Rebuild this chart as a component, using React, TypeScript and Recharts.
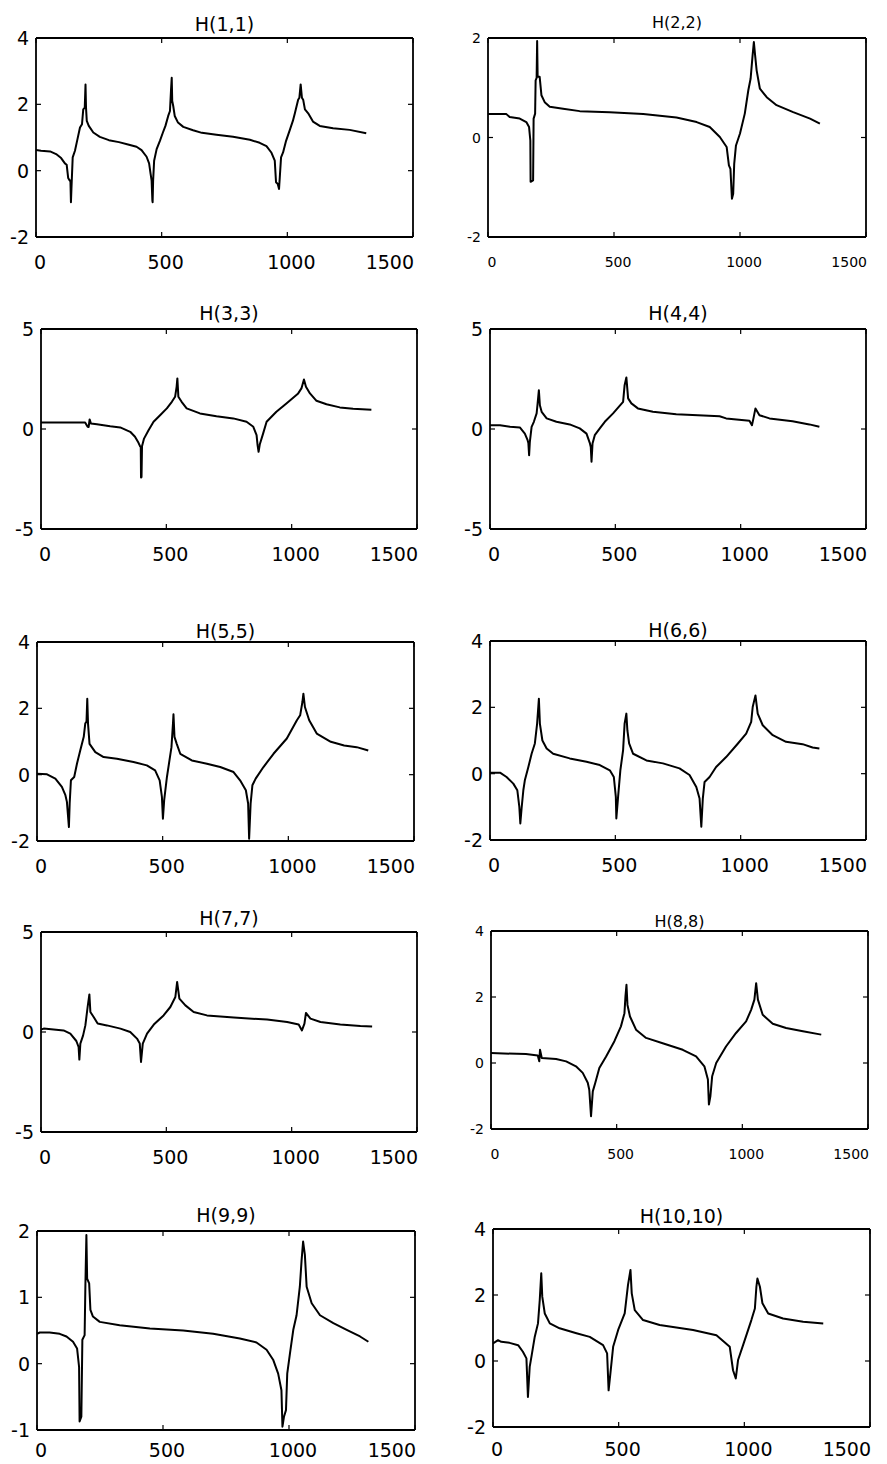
import React from 'react';
import { LineChart, Line, XAxis, YAxis } from 'recharts';

type Pt = [number, number];

// ---------- tick labels ----------
const X_TICKS = [0, 500, 1000, 1500];
const Y_TICKS_A = [-2, 0, 2, 4];
const Y_TICKS_B = [-2, 0, 2];
const Y_TICKS_C = [-5, 0, 5];
const Y_TICKS_D = [-1, 0, 1, 2];

// ---------- series values [frequency, value] ----------
const H11: Pt[] = [[0,0.62],[20,0.6],[56,0.58],[80,0.5],[100,0.38],[115,0.22],[122,0.18],[128,-0.22],[134,-0.3],[137,-0.3],[139,-0.95],[141,-0.55],[146,0.4],[155,0.6],[165,0.95],[175,1.3],[183,1.4],[188,1.85],[194,1.9],[197,2.6],[199,1.9],[202,1.5],[210,1.35],[228,1.15],[254,1.02],[290,0.92],[330,0.86],[370,0.78],[400,0.72],[420,0.62],[440,0.42],[450,0.22],[456,-0.1],[460,-0.3],[463,-0.9],[464,-0.95],[466,-0.3],[470,0.3],[480,0.65],[493,0.9],[505,1.15],[515,1.35],[526,1.65],[533,1.8],[537,2.4],[540,2.8],[542,2.1],[546,1.95],[552,1.65],[565,1.45],[586,1.32],[625,1.22],[660,1.14],[718,1.08],[784,1.02],[851,0.93],[890,0.84],[917,0.74],[937,0.54],[950,0.3],[955,-0.35],[962,-0.4],[967,-0.55],[970,-0.2],[975,0.4],[983,0.55],[995,0.9],[1010,1.23],[1022,1.5],[1030,1.73],[1043,2.14],[1048,2.2],[1053,2.6],[1058,2.2],[1063,2.14],[1070,1.85],[1083,1.73],[1102,1.48],[1129,1.35],[1182,1.28],[1248,1.23],[1314,1.13]];

const H22: Pt[] = [[0,0.47],[73,0.47],[86,0.41],[126,0.38],[152,0.31],[163,0.21],[168,-0.06],[169,-0.89],[179,-0.86],[181,0.38],[187,0.48],[189,1.15],[193,1.2],[195,1.94],[197,1.22],[205,1.22],[212,0.85],[225,0.71],[245,0.62],[298,0.58],[364,0.53],[483,0.51],[616,0.47],[748,0.4],[828,0.31],[880,0.21],[920,0.01],[947,-0.19],[956,-0.56],[962,-0.63],[968,-1.23],[973,-1.13],[977,-0.53],[984,-0.16],[1000,0.08],[1019,0.48],[1033,0.95],[1042,1.18],[1050,1.65],[1055,1.92],[1060,1.65],[1066,1.35],[1079,0.98],[1106,0.81],[1145,0.65],[1211,0.51],[1278,0.38],[1317,0.28]];

const H33: Pt[] = [[0,0.33],[176,0.33],[186,0.11],[190,0.1],[194,0.48],[199,0.28],[223,0.24],[276,0.14],[316,0.08],[356,-0.14],[375,-0.39],[389,-0.69],[395,-0.86],[398,-0.9],[399,-2.43],[401,-2.4],[403,-0.86],[411,-0.48],[429,-0.06],[449,0.36],[475,0.69],[502,1.03],[522,1.36],[535,1.61],[541,2.11],[544,2.53],[548,1.61],[561,1.36],[581,1.03],[634,0.78],[700,0.64],[767,0.53],[820,0.36],[847,0.11],[860,-0.31],[864,-0.81],[868,-1.14],[873,-0.76],[886,-0.23],[900,0.36],[939,0.86],[979,1.28],[1026,1.78],[1039,2.03],[1049,2.48],[1057,2.11],[1073,1.78],[1099,1.41],[1139,1.24],[1192,1.08],[1245,1.01],[1318,0.96]];

const H44: Pt[] = [[0,0.19],[40,0.19],[80,0.11],[119,0.08],[139,-0.23],[150,-0.56],[153,-0.7],[156,-1.31],[159,-0.64],[166,0.11],[175,0.36],[186,0.78],[190,1.28],[195,1.94],[199,1.19],[206,0.86],[226,0.53],[265,0.36],[318,0.23],[358,0.03],[385,-0.23],[398,-0.69],[402,-0.9],[405,-1.64],[409,-0.73],[418,-0.31],[438,0.03],[458,0.36],[491,0.78],[531,1.36],[537,2.19],[544,2.58],[551,1.53],[564,1.28],[590,1.03],[650,0.86],[743,0.74],[916,0.64],[942,0.53],[1035,0.41],[1045,0.19],[1051,0.53],[1059,1.03],[1075,0.69],[1115,0.53],[1207,0.39],[1274,0.23],[1314,0.11]];

const H55: Pt[] = [[0,0.03],[40,0.01],[73,-0.12],[99,-0.37],[113,-0.62],[119,-0.82],[127,-1.58],[130,-0.87],[135,-0.17],[148,-0.07],[159,0.33],[172,0.73],[186,1.14],[192,1.54],[197,1.6],[200,2.29],[203,1.54],[209,0.93],[232,0.68],[265,0.53],[318,0.48],[384,0.38],[437,0.28],[470,0.13],[488,-0.17],[497,-0.67],[501,-1.33],[506,-0.77],[517,-0.07],[527,0.43],[535,0.83],[541,1.54],[543,1.82],[547,1.14],[556,0.93],[570,0.63],[616,0.43],[676,0.33],[729,0.23],[782,0.08],[808,-0.17],[831,-0.47],[840,-0.87],[844,-1.93],[850,-0.87],[857,-0.32],[870,-0.12],[901,0.23],[941,0.63],[994,1.09],[1034,1.64],[1047,1.79],[1056,2.19],[1060,2.44],[1066,2.04],[1083,1.64],[1113,1.24],[1169,0.99],[1222,0.88],[1272,0.83],[1318,0.73]];

const H66: Pt[] = [[0,0.03],[40,0.03],[66,-0.1],[93,-0.3],[109,-0.5],[117,-1.0],[121,-1.5],[126,-1.05],[133,-0.5],[139,-0.2],[153,0.2],[166,0.6],[179,0.91],[188,1.51],[195,2.26],[199,1.51],[209,1.0],[226,0.76],[252,0.6],[318,0.46],[385,0.36],[438,0.26],[478,0.1],[494,-0.1],[502,-0.7],[504,-1.35],[511,-0.7],[520,0.1],[531,0.71],[537,1.51],[544,1.81],[548,1.31],[555,0.91],[571,0.6],[624,0.4],[690,0.31],[756,0.16],[796,-0.04],[823,-0.4],[836,-0.75],[843,-1.6],[849,-0.75],[856,-0.25],[876,-0.1],[902,0.2],[942,0.5],[989,0.91],[1022,1.21],[1042,1.56],[1048,2.01],[1059,2.36],[1068,1.81],[1088,1.46],[1128,1.16],[1181,0.96],[1247,0.89],[1287,0.79],[1314,0.76]];

const H77: Pt[] = [[0,0.12],[11,0.17],[90,0.08],[117,-0.08],[141,-0.45],[150,-0.75],[153,-1.38],[157,-0.58],[168,-0.17],[177,0.33],[186,1.25],[193,1.88],[197,1.0],[210,0.75],[226,0.42],[263,0.33],[317,0.17],[356,0],[383,-0.33],[394,-0.58],[399,-1.5],[406,-0.58],[423,-0.08],[450,0.37],[489,0.83],[516,1.25],[536,1.75],[543,2.5],[552,1.67],[576,1.33],[609,1.0],[662,0.83],[769,0.72],[902,0.62],[982,0.5],[1028,0.37],[1041,0.08],[1051,0.42],[1057,0.95],[1075,0.67],[1115,0.5],[1194,0.38],[1274,0.3],[1321,0.28]];

const H88: Pt[] = [[0,0.3],[139,0.27],[186,0.23],[192,0.05],[195,0.4],[202,0.15],[259,0.12],[299,0.05],[338,-0.1],[365,-0.3],[385,-0.6],[391,-0.81],[398,-1.61],[405,-0.86],[415,-0.6],[431,-0.15],[458,0.2],[491,0.66],[517,1.11],[531,1.51],[535,2.02],[539,2.37],[543,1.76],[553,1.41],[577,1.01],[617,0.76],[683,0.6],[763,0.4],[816,0.2],[849,-0.1],[863,-0.5],[867,-1.26],[873,-1.0],[880,-0.4],[896,0],[935,0.5],[975,0.91],[1015,1.26],[1035,1.61],[1048,1.92],[1055,2.42],[1062,1.92],[1081,1.46],[1121,1.19],[1174,1.06],[1241,0.96],[1314,0.86]];

const H99: Pt[] = [[0,0.45],[11,0.47],[50,0.47],[90,0.45],[117,0.41],[143,0.33],[159,0.23],[167,-0.05],[169,-0.87],[176,-0.8],[180,0.36],[189,0.43],[192,1.18],[196,1.94],[199,1.28],[207,1.21],[212,0.81],[222,0.71],[249,0.63],[328,0.58],[448,0.53],[580,0.5],[699,0.45],[805,0.38],[871,0.32],[911,0.21],[937,0.06],[957,-0.15],[970,-0.4],[974,-0.95],[980,-0.8],[988,-0.7],[993,-0.15],[1004,0.16],[1017,0.51],[1030,0.73],[1043,1.16],[1050,1.56],[1056,1.84],[1063,1.64],[1070,1.16],[1090,0.91],[1123,0.73],[1176,0.61],[1229,0.51],[1282,0.41],[1315,0.33]];

const H1010: Pt[] = [[0,0.53],[20,0.63],[33,0.58],[66,0.55],[100,0.48],[119,0.28],[133,0.08],[139,-1.09],[146,-0.18],[154,0.18],[166,0.73],[179,1.14],[186,1.85],[192,2.66],[196,1.95],[206,1.44],[226,1.14],[265,0.99],[332,0.84],[385,0.73],[438,0.48],[454,0.23],[460,-0.89],[467,-0.38],[478,0.43],[498,0.94],[524,1.44],[537,2.3],[547,2.76],[552,2.05],[564,1.54],[597,1.24],[663,1.09],[796,0.94],[889,0.78],[942,0.43],[955,-0.28],[966,-0.53],[975,0.03],[995,0.48],[1028,1.24],[1042,1.59],[1048,2.25],[1052,2.5],[1062,2.25],[1072,1.75],[1095,1.44],[1154,1.29],[1234,1.19],[1314,1.14]];

const TITLES = ['H(1,1)', 'H(2,2)', 'H(3,3)', 'H(4,4)', 'H(5,5)', 'H(6,6)', 'H(7,7)', 'H(8,8)', 'H(9,9)', 'H(10,10)'];

// ---------- layout (plot boxes: left, top, right, bottom) ----------
interface PanelCfg {
  title: string;
  data: Pt[];
  yDomain: [number, number];
  yTicks: number[];
  box: [number, number, number, number];
  small: boolean;
  titleGap: number;
  xBase: number;
}

const PANELS: PanelCfg[] = [
  { title: TITLES[0], data: H11, yDomain: [-2, 4], yTicks: Y_TICKS_A, box: [36, 38, 413, 237], small: false, titleGap: 7, xBase: 32 },
  { title: TITLES[1], data: H22, yDomain: [-2, 2], yTicks: Y_TICKS_B, box: [488, 38, 866, 237], small: true, titleGap: 10, xBase: 30 },
  { title: TITLES[2], data: H33, yDomain: [-5, 5], yTicks: Y_TICKS_C, box: [41, 329, 417, 529], small: false, titleGap: 9, xBase: 32 },
  { title: TITLES[3], data: H44, yDomain: [-5, 5], yTicks: Y_TICKS_C, box: [490, 329, 866, 529], small: false, titleGap: 9, xBase: 32 },
  { title: TITLES[4], data: H55, yDomain: [-2, 4], yTicks: Y_TICKS_A, box: [37, 642, 414, 841], small: false, titleGap: 4, xBase: 32 },
  { title: TITLES[5], data: H66, yDomain: [-2, 4], yTicks: Y_TICKS_A, box: [490, 641, 866, 840], small: false, titleGap: 4, xBase: 32 },
  { title: TITLES[6], data: H77, yDomain: [-5, 5], yTicks: Y_TICKS_C, box: [41, 932, 417, 1132], small: false, titleGap: 7, xBase: 32 },
  { title: TITLES[7], data: H88, yDomain: [-2, 4], yTicks: Y_TICKS_A, box: [491, 931, 868, 1129], small: true, titleGap: 4, xBase: 30 },
  { title: TITLES[8], data: H99, yDomain: [-1, 2], yTicks: Y_TICKS_D, box: [37, 1231, 415, 1430], small: false, titleGap: 9, xBase: 27 },
  { title: TITLES[9], data: H1010, yDomain: [-2, 4], yTicks: Y_TICKS_A, box: [493, 1229, 870, 1427], small: false, titleGap: 6, xBase: 29 },
];

const FONT = '"DejaVu Sans", sans-serif';
const INK = '#000';
const X_MAX = 1500;

function Panel({ cfg }: { cfg: PanelCfg }) {
  const [L, T, R, B] = cfg.box;
  const padL = 60, padT = 12, padR = 14, padB = 40;
  const plotW = R - L, plotH = B - T;
  const W = padL + plotW + 1 + padR;
  const H = padT + plotH + padB;
  const data = cfg.data.map(([x, y]) => ({ x, y }));
  const fs = cfg.small ? 14 : 19;
  const xBase = cfg.xBase;
  const yGap = 7;
  const axisStyle = { stroke: INK, strokeWidth: 1.8 };

  const bottomTick = (p: any) => {
    const last = p.payload.value === X_MAX;
    return (
      <g>
        <line x1={p.x} y1={p.y} x2={p.x} y2={p.y - 5} stroke={INK} strokeWidth={1.2} />
        <text x={last ? p.x + 1 : p.x + 4} y={p.y + xBase} textAnchor={last ? 'end' : 'middle'}
          fontSize={fs} fontFamily={FONT} fill={INK}>
          {p.payload.value}
        </text>
      </g>
    );
  };
  const leftTick = (p: any) => (
    <g>
      <line x1={p.x} y1={p.y} x2={p.x + 5} y2={p.y} stroke={INK} strokeWidth={1.2} />
      <text x={p.x - yGap} y={p.y + fs * 0.36} textAnchor="end" fontSize={fs} fontFamily={FONT} fill={INK}>
        {p.payload.value}
      </text>
    </g>
  );
  const topTick = (p: any) => (
    <line x1={p.x} y1={p.y} x2={p.x} y2={p.y + 5} stroke={INK} strokeWidth={1.2} />
  );
  const rightTick = (p: any) => (
    <line x1={p.x} y1={p.y} x2={p.x - 5} y2={p.y} stroke={INK} strokeWidth={1.2} />
  );

  return (
    <div style={{ position: 'absolute', left: L - padL, top: T - padT, width: W, height: H }}>
      <LineChart width={W} height={H} data={data} margin={{ top: padT - 1, right: padR, bottom: 0, left: 0 }}>
        <XAxis xAxisId="b" dataKey="x" type="number" domain={[0, X_MAX]} ticks={X_TICKS} interval={0}
          allowDataOverflow height={padB} tickLine={false} tickSize={0} tickMargin={0}
          axisLine={axisStyle} tick={bottomTick} />
        <XAxis xAxisId="t" orientation="top" dataKey="x" type="number" domain={[0, X_MAX]} ticks={X_TICKS} interval={0}
          allowDataOverflow height={1} tickLine={false} tickSize={0} tickMargin={0}
          axisLine={axisStyle} tick={topTick} />
        <YAxis yAxisId="l" dataKey="y" type="number" domain={cfg.yDomain} ticks={cfg.yTicks} interval={0}
          allowDataOverflow width={padL} tickLine={false} tickSize={0} tickMargin={0}
          axisLine={axisStyle} tick={leftTick} />
        <YAxis yAxisId="r" orientation="right" dataKey="y" type="number" domain={cfg.yDomain} ticks={cfg.yTicks} interval={0}
          allowDataOverflow width={1} tickLine={false} tickSize={0} tickMargin={0}
          axisLine={axisStyle} tick={rightTick} />
        <Line xAxisId="b" yAxisId="l" type="linear" dataKey="y" stroke={INK} strokeWidth={2}
          dot={false} activeDot={false} isAnimationActive={false} strokeLinejoin="round" />
      </LineChart>
    </div>
  );
}

export default function App() {
  return (
    <div style={{ position: 'absolute', left: 0, top: 0, width: 887, height: 1464, background: '#fff', overflow: 'hidden' }}>
      {PANELS.map((cfg) => (
        <Panel key={cfg.title} cfg={cfg} />
      ))}
      <svg width={887} height={1464} style={{ position: 'absolute', left: 0, top: 0, pointerEvents: 'none' }}>
        {PANELS.map((cfg) => {
          const [L, T, R] = cfg.box;
          return (
            <text key={cfg.title} x={(L + R) / 2} y={T - cfg.titleGap} textAnchor="middle"
              fontSize={cfg.small ? 16 : 19} fontFamily={FONT} fill={INK}>
              {cfg.title}
            </text>
          );
        })}
      </svg>
    </div>
  );
}
